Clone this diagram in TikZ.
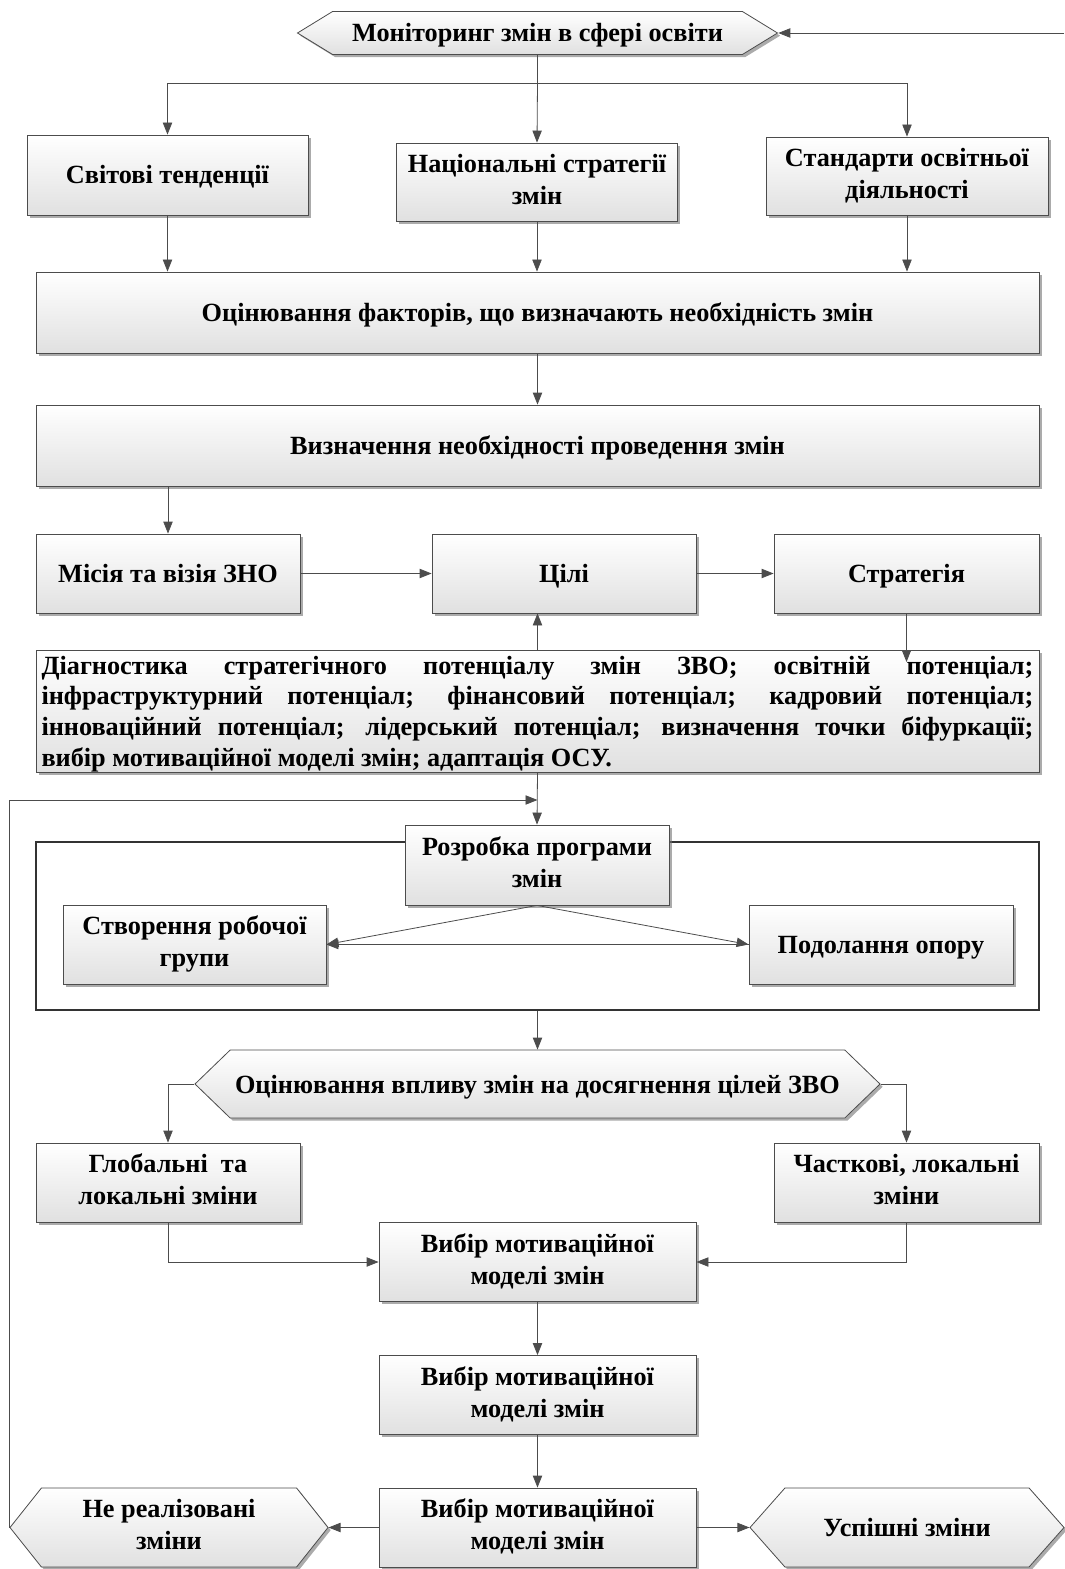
\documentclass[tikz,border=0pt]{standalone}
\usepackage{fontspec}
\setmainfont{Liberation Serif}
\usetikzlibrary{arrows.meta,shapes.symbols,shadows}
\newcommand\boxstrut{\rule[-4.5pt]{0pt}{22.5pt}}

\begin{document}
\begin{tikzpicture}[x=0.75pt, y=-0.75pt,
    font=\bfseries\fontsize{19.7}{24}\selectfont,
    wh/.style 2 args={minimum width=#1*0.75pt, minimum height=#2*0.75pt},
    box/.style={draw=black!70, line width=0.6pt, top color=white, bottom color=black!12,
        align=center, inner sep=2pt,
        execute at begin node=\boxstrut, execute at end node=\boxstrut,
        drop shadow={shadow xshift=2pt, shadow yshift=-2pt, fill=black!55, opacity=0.6}},
    hexa/.style={box, shape=signal, signal to=east and west},
    arr/.style={draw=black!70, line width=0.6pt, -{Triangle[length=9pt, width=7pt]}},
    line/.style={draw=black!70, line width=0.6pt}]
    \useasboundingbox (0,0) rectangle (1064,1569);

    % top part
    \node[hexa, wh={480}{43}, signal pointer angle=63] (mon) at (537.5,33) {Моніторинг змін в сфері освіти};
    \node[box, wh={281}{80}] (svit) at (167.5,175) {Світові тенденції};
    \node[box, wh={281}{78}] (nats) at (537,182) {Національні стратегії\\змін};
    \node[box, wh={282}{78}] (stand) at (907,176) {Стандарти освітньої\\діяльності};
    \node[box, wh={1003}{81}] (otsin) at (537.5,312.5) {Оцінювання факторів, що визначають необхідність змін};
    \node[box, wh={1003}{81}] (vyzn) at (537.5,445.5) {Визначення необхідності проведення змін};
    \node[box, wh={264}{79}] (misia) at (168,573.5) {Місія та візія ЗНО};
    \node[box, wh={264}{79}] (tsili) at (564,573.5) {Цілі};
    \node[box, wh={265}{79}] (strat) at (906.5,573.5) {Стратегія};
    \node[box, wh={1003}{122}, text width=744pt, align=justify, inner xsep=4pt, inner ysep=0pt,
        font=\bfseries\fontsize{19.7}{23}\selectfont] (diag) at (537.5,711)
        {Діагностика стратегічного потенціалу змін ЗВО; освітній потенціал;\linebreak
         інфраструктурний потенціал; фінансовий потенціал; кадровий потенціал;\linebreak
         інноваційний потенціал; лідерський потенціал; визначення точки біфуркації;\linebreak
         вибір мотиваційної моделі змін; адаптація ОСУ.};

    % programme of changes
    \node[draw=black!80, line width=0.8pt, wh={1003}{168}] (frame) at (537.5,926) {};
    \node[box, wh={264}{80}] (rozr) at (537,865) {Розробка програми\\змін};
    \node[box, wh={263}{79}] (stvor) at (194.5,944.5) {Створення робочої\\групи};
    \node[box, wh={264}{79}] (podol) at (881,944.5) {Подолання опору};

    % evaluation
    \node[hexa, wh={685}{68}, signal pointer angle=88] (vplyv) at (537.5,1084) {Оцінювання впливу змін на досягнення цілей ЗВО};
    \node[box, wh={264}{79}] (glob) at (168,1182.5) {Глобальні\ \ та\\локальні зміни};
    \node[box, wh={265}{79}] (chast) at (906.5,1182.5) {Часткові, локальні\\зміни};
    \foreach \n/\y in {vyb1/1262, vyb2/1395, vyb3/1527.5}
        \node[box, wh={317}{79}] (\n) at (537.5,\y) {Вибір мотиваційної\\моделі змін};
    \node[hexa, wh={318}{79}, signal pointer angle=103] (nereal) at (169,1527.5) {Не реалізовані\\зміни};
    \node[hexa, wh={314}{79}, signal pointer angle=97] (uspish) at (907,1527.5) {Успішні зміни};

    % connectors
    \coordinate (topin) at (1064,33);
    \coordinate (split) at (537.5,83);
    \coordinate (stratend) at (906.5,662);
    \coordinate (loopin) at (537.5,800);
    \draw[arr] (topin) -- (mon.east);
    \draw[line] (mon.south) -- (split);
    \draw[arr] (split) -| (svit.north);
    \draw[arr] (split) -| (stand.north);
    \draw[arr] (split) -- (nats.north);
    \foreach \n in {svit, nats, stand}
        \draw[arr] (\n.south) -- (\n.south |- otsin.north);
    \draw[arr] (otsin) -- (vyzn);
    \draw[arr] (misia.north |- vyzn.south) -- (misia.north);
    \draw[arr] (misia) -- (tsili);
    \draw[arr] (tsili) -- (strat);
    \draw[arr] (diag.north) -- (diag.north |- tsili.south);
    \draw[arr] (strat.south) -- (stratend);
    \draw[arr] (diag.south) -- (rozr.north);
    \draw[arr] (nereal.west) -- (nereal.west |- loopin) -- (loopin);
    \draw[arr] (rozr.south) -- (stvor.east);
    \draw[arr] (rozr.south) -- (podol.west);
    \draw[arr, {Triangle[length=9pt, width=7pt]}-] (stvor.east) -- (podol.west);
    \draw[arr] (frame.south) -- (vplyv.north);
    \draw[arr] (vplyv.west) -| (glob.north);
    \draw[arr] (vplyv.east) -| (chast.north);
    \draw[arr] (glob.south) |- (vyb1.west);
    \draw[arr] (chast.south) |- (vyb1.east);
    \draw[arr] (vyb1) -- (vyb2);
    \draw[arr] (vyb2) -- (vyb3);
    \draw[arr] (vyb3.west) -- (nereal.east);
    \draw[arr] (vyb3.east) -- (uspish.west);
\end{tikzpicture}
\end{document}
